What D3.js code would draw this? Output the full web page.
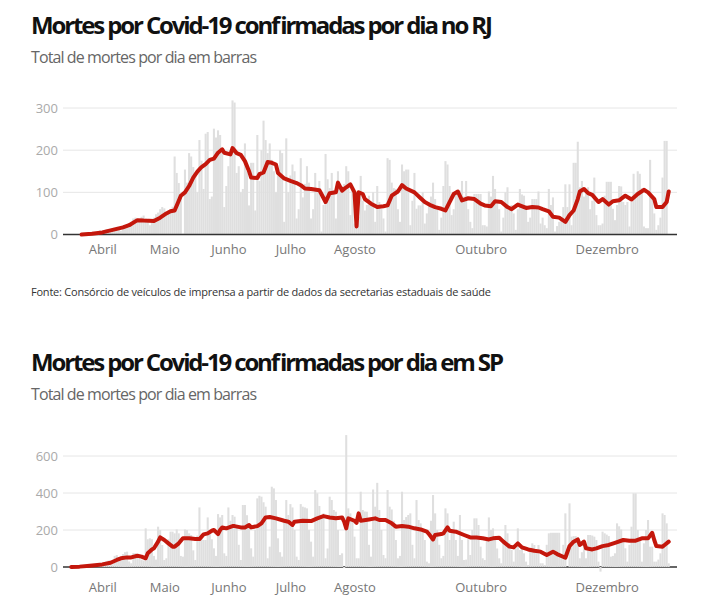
<!DOCTYPE html>
<html>
<head>
<meta charset="utf-8">
<script src="https://cdn.jsdelivr.net/npm/d3@7"></script>
<style>
  body { margin: 0; background: #fff; }
  text { font-family: "Open Sans", sans-serif; }
</style>
</head>
<body>
<svg id="chart" width="710" height="610"></svg>
<script>
// Meses mostrados no eixo x
const mesesDatas = ["2020-04-01", "2020-05-01", "2020-06-01", "2020-07-01", "2020-08-01", "2020-10-01", "2020-12-01"];
const mesesNomes = ["Abril", "Maio", "Junho", "Julho", "Agosto", "Outubro", "Dezembro"];

// RJ: mortes diárias (barras) a partir de 19/03/2020
const rjInicio = "2020-03-19";
const rjMortes = [
  1,0,1,2,1,3,2,4,3,5,6,8,10,
  7,9,12,8,6,14,16,18,12,9,
  15,20,25,22,28,38,40,36,30,42,
  45,38,34,22,30,40,48,52,60,65,
  62,48,55,60,66,185,146,122,95,2,
  154,123,193,185,160,143,100,224,175,108,
  239,243,84,90,251,230,247,236,193,65,
  115,162,200,318,313,146,162,100,108,216,
  150,69,170,170,57,236,127,200,270,224,
  193,216,177,150,100,140,200,193,30,228,
  100,140,166,150,38,60,181,88,120,162,
  123,38,60,146,110,127,7,70,191,131,
  110,146,105,38,150,110,115,120,162,150,
  46,112,26,20,42,139,80,57,70,92,
  70,100,30,115,77,60,38,7,181,177,
  123,110,108,60,30,166,150,154,154,22,
  80,146,61,69,69,100,26,50,77,90,
  123,84,60,11,40,115,174,166,115,46,
  60,100,104,104,127,90,127,60,30,15,
  96,96,96,96,22,22,19,102,90,139,
  108,77,60,7,40,100,112,61,70,50,
  11,60,108,95,92,69,30,40,84,84,
  84,102,26,40,22,15,108,70,88,7,
  20,30,40,65,119,65,119,22,170,170,
  220,112,127,90,108,112,60,80,135,46,
  22,22,26,92,125,125,125,61,34,70,
  115,114,77,70,77,19,77,144,100,150,
  144,110,19,15,15,177,84,50,11,22,
  40,135,222,222
];
// RJ: média móvel (linha), dias contados a partir de 01/04/2020
const rjMediaDias = [-10,-5,0,5,10,13,17,20,25,28,31,33,35,37,38,40,42,44,46,48,50,52,54,56,58,59,62,63,65,67,69,71,72,75,76,78,80,82,84,85,88,91,94,96,98,101,105,106,108,110,113,114,116,118,120,122,123,124,126,127,130,133,136,138,140,143,145,147,151,154,156,159,161,164,166,168,170,172,174,177,180,183,185,188,190,193,196,198,201,205,208,211,213,216,218,221,224,226,228,230,231,233,235,237,240,242,245,247,250,253,256,259,262,264,267,268,271,273,274];
const rjMedia = [0,2,5,11,17,22,34,33,32,40,50,55,57,80,92,100,115,135,149,160,167,177,180,194,202,194,190,205,193,189,174,150,135,134,143,147,172,170,166,146,133,127,122,117,109,108,105,96,77,98,100,123,104,112,119,100,19,100,96,84,73,65,67,69,92,102,117,109,100,86,77,69,65,61,57,77,96,102,81,86,84,73,69,67,79,77,65,60,71,63,65,64,60,55,42,40,30,46,57,84,102,108,98,94,77,84,71,79,81,92,83,96,106,100,84,65,65,77,102];
const rjTicks = [0, 100, 200, 300];

// SP: mortes diárias (barras) a partir de 17/03/2020
const spInicio = "2020-03-17";
const spMortes = [
  1,1,2,1,3,4,5,3,8,9,10,12,5,14,20,
  20,25,30,35,20,15,60,65,45,40,
  70,80,83,30,20,75,75,70,55,40,
  35,209,150,155,150,60,40,218,200,119,
  38,47,150,191,191,182,203,182,60,56,
  203,200,182,173,90,38,170,322,155,146,
  146,268,200,150,101,60,286,268,281,74,
  60,322,250,281,272,218,120,38,335,335,
  280,218,101,56,200,371,385,380,350,326,
  47,110,434,425,362,155,80,56,250,362,
  281,340,322,200,56,38,340,326,322,317,
  200,137,56,416,398,330,281,290,47,100,
  380,362,308,299,200,65,74,-6,713,317,
  290,250,164,47,47,407,308,300,299,120,
  56,419,326,455,308,200,65,47,416,326,
  311,250,146,47,60,407,254,270,281,290,
  120,47,362,254,236,200,146,29,20,250,
  389,290,200,120,47,60,317,290,146,200,
  245,146,60,281,146,38,40,150,65,200,
  263,263,227,110,47,38,150,268,200,209,
  146,100,47,20,150,227,182,128,92,29,
  100,209,92,110,74,29,11,90,128,119,
  92,119,20,20,11,120,182,185,185,185,
  185,185,47,120,290,0,344,164,167,167,
  140,47,80,119,47,173,173,170,164,146,
  29,-25,191,182,175,167,56,60,74,236,
  220,203,146,101,29,120,218,398,398,200,
  146,29,128,200,254,110,110,29,29,40,
  74,290,281,236,20
];
// SP: média móvel (linha), dias contados a partir de 01/04/2020
const spMediaDias = [-15,-11,-6,0,4,7,9,12,14,17,19,21,22,24,25,27,28,30,32,34,35,37,39,42,45,47,49,51,53,54,56,57,58,60,63,64,67,69,71,72,75,77,79,81,84,88,90,92,93,97,101,104,107,110,113,116,117,118,119,122,123,124,125,129,132,134,137,140,142,145,148,151,154,157,158,160,161,164,165,167,168,171,175,178,181,184,187,189,192,194,197,199,201,203,206,209,212,215,218,220,224,226,228,230,231,233,234,237,239,242,245,248,252,255,258,261,264,266,267,268,271,272,274];
const spMedia = [0,2,7,14,23,38,47,52,52,61,56,47,74,95,101,137,160,146,128,110,110,128,155,155,151,151,176,182,196,200,178,200,214,209,221,221,214,214,227,214,221,236,268,270,263,250,245,227,245,250,248,263,275,268,263,268,245,209,263,250,239,290,250,257,263,254,254,236,218,221,218,209,203,191,178,149,173,178,182,214,196,191,173,160,160,155,149,155,158,137,110,106,128,106,95,88,83,65,83,70,50,113,137,149,119,137,101,95,101,113,119,131,146,142,142,155,155,185,146,113,110,119,137];
const spTicks = [0, 200, 400, 600];

const parse = d3.timeParse("%Y-%m-%d");
const base = parse("2020-04-01");
const svg = d3.select("#chart");

const x = d3.scaleTime()
  .domain([parse("2020-03-13"), parse("2021-01-04")])
  .range([63, 677]);
const barW = (x(parse("2020-06-01")) - x(parse("2020-05-01"))) / 31;

function painel(cfg) {
  const g = svg.append("g");

  const y = d3.scaleLinear()
    .domain([0, cfg.ticks[cfg.ticks.length - 1]])
    .range([cfg.y0, cfg.yTop]);

  // Titles
  g.append("text")
    .attr("x", 31)
    .attr("y", cfg.tituloY)
    .attr("textLength", cfg.tituloW)
    .attr("lengthAdjust", "spacing")
    .style("font-size", "24px")
    .style("font-weight", 700)
    .style("fill", "#111")
    .text(cfg.titulo);

  g.append("text")
    .attr("x", 31)
    .attr("y", cfg.tituloY + 29.5)
    .attr("textLength", 226)
    .attr("lengthAdjust", "spacing")
    .style("font-size", "16px")
    .style("fill", "#666")
    .text("Total de mortes por dia em barras");

  // Grid lines
  g.selectAll(".grid")
    .data(cfg.ticks.filter(d => d > 0))
    .enter().append("line")
    .attr("x1", 63)
    .attr("x2", 677)
    .attr("y1", d => y(d))
    .attr("y2", d => y(d))
    .attr("stroke", "#e6e6e6")
    .attr("stroke-width", 1);

  // Y axis labels
  const yAxis = g.append("g")
    .attr("transform", "translate(63,0)")
    .call(d3.axisLeft(y).tickValues(cfg.ticks).tickSize(0).tickPadding(5));
  yAxis.select(".domain").remove();
  yAxis.selectAll("text")
    .style("font-family", "'Open Sans', sans-serif")
    .style("font-size", "13px")
    .style("fill", "#aaa");

  const baseline = () => g.append("line")
    .attr("x1", 63)
    .attr("x2", 677)
    .attr("y1", y(0))
    .attr("y2", y(0))
    .attr("stroke", "#333")
    .attr("stroke-width", 1.5);

  if (!cfg.eixoNaFrente) baseline();

  // Daily bars
  const inicio = parse(cfg.inicio);
  const barras = cfg.mortes.map((v, i) => ({ date: d3.timeDay.offset(inicio, i), v: v }));
  g.selectAll(".bar")
    .data(barras)
    .enter().append("rect")
    .attr("x", d => x(d.date) - barW / 2)
    .attr("width", barW)
    .attr("y", d => y(Math.max(d.v, 0)))
    .attr("height", d => Math.abs(y(d.v) - y(0)))
    .attr("fill", "#dfdfdf");

  if (cfg.eixoNaFrente) baseline();

  // Moving average line
  const media = cfg.mediaDias.map((d, i) => ({ date: d3.timeDay.offset(base, d), v: cfg.media[i] }));
  const line = d3.line()
    .x(d => x(d.date))
    .y(d => y(d.v));

  g.append("path")
    .datum(media)
    .attr("d", line)
    .attr("fill", "none")
    .attr("stroke", "#c4170c")
    .attr("stroke-width", 4)
    .attr("stroke-linejoin", "round")
    .attr("stroke-linecap", "round");

  // X axis labels
  const xAxis = g.append("g")
    .attr("transform", `translate(0,${cfg.y0 + cfg.xLabelOffset})`)
    .call(d3.axisBottom(x)
      .tickValues(mesesDatas.map(parse))
      .tickFormat((d, i) => mesesNomes[i])
      .tickSize(0)
      .tickPadding(0));
  xAxis.select(".domain").remove();
  xAxis.selectAll("text")
    .style("font-family", "'Open Sans', sans-serif")
    .style("font-size", "13px")
    .style("fill", "#777");
}

painel({
  titulo: "Mortes por Covid-19 confirmadas por dia no RJ",
  tituloY: 33.5,
  tituloW: 462,
  inicio: rjInicio,
  mortes: rjMortes,
  mediaDias: rjMediaDias,
  media: rjMedia,
  ticks: rjTicks,
  y0: 234.5,
  yTop: 108,
  xLabelOffset: 10,
  eixoNaFrente: true
});

svg.append("text")
  .attr("x", 31)
  .attr("y", 296)
  .attr("textLength", 460)
  .attr("lengthAdjust", "spacing")
  .style("font-size", "11px")
  .style("fill", "#333")
  .text("Fonte: Consórcio de veículos de imprensa a partir de dados da secretarias estaduais de saúde");

painel({
  titulo: "Mortes por Covid-19 confirmadas por dia em SP",
  tituloY: 370.5,
  tituloW: 473,
  inicio: spInicio,
  mortes: spMortes,
  mediaDias: spMediaDias,
  media: spMedia,
  ticks: spTicks,
  y0: 567,
  yTop: 456,
  xLabelOffset: 16,
  eixoNaFrente: false
});
</script>
</body>
</html>
